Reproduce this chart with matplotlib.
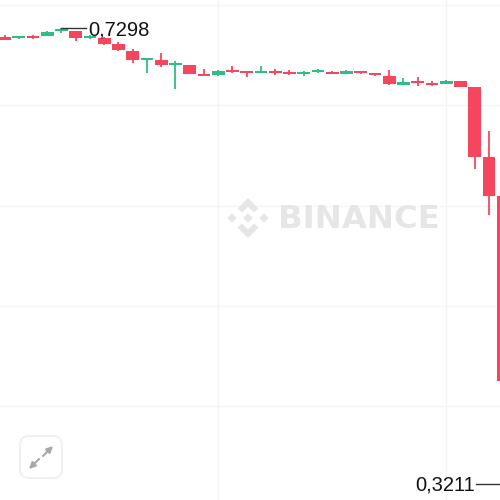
import matplotlib
matplotlib.use("Agg")
import matplotlib.pyplot as plt
from matplotlib.patches import Polygon, FancyBboxPatch

# Candle series: price values
opens = [.7208, .7211, .7226, .7226, .7271, .7271, .7211, .7208, .7155, .7095, .7014, .7011,
         .6967, .6967, .6883, .6877, .6913, .6907, .6892, .6907, .6901, .6889, .6907, .6901,
         .6889, .6910, .6886, .6868, .6787, .6821, .6803, .6799, .6821, .6769, .6142, .5793]
closes = [.7195, .7220, .7211, .7262, .7287, .7206, .7226, .7157, .7101, .7011, .7027, .6964,
          .6987, .6883, .6865, .6916, .6901, .6892, .6907, .6895, .6889, .6898, .6916, .6889,
          .6910, .6897, .6877, .6794, .6817, .6803, .6787, .6821, .6772, .6145, .5793, .4135]
highs = [.7231, .7226, .7238, .7271, .7298, .7271, .7235, .7217, .7177, .7114, .7027, .7074,
         .7002, .6967, .6931, .6922, .6958, .6907, .6958, .6931, .6922, .6913, .6931, .6910,
         .6925, .6917, .6886, .6919, .6850, .6859, .6819, .6832, .6821, .6769, .6375, .5793]
lows = [.7195, .7200, .7204, .7226, .7253, .7182, .7200, .7146, .7088, .6985, .6899, .6953,
        .6754, .6883, .6864, .6868, .6899, .6859, .6895, .6877, .6873, .6868, .6895, .6886,
        .6886, .6890, .6868, .6787, .6787, .6778, .6774, .6796, .6772, .6035, .5623, .3211]
max_label = "0,7298"
min_label = "0,3211"
grid_prices = [.7504, .6608, .5703, .4807, .3911]
grid_indices = [15, 31]
watermark = "BINANCE"

GREEN, RED = "#2ebd85", "#f6465d"
SPACING, X0 = 14.25, 4.5

fig = plt.figure(figsize=(5, 5), dpi=100, facecolor="white")
ax = fig.add_axes([0, 0, 1, 1])
ax.set_xlim(-X0 / SPACING, (500 - X0) / SPACING)
ax.set_ylim(0.7549 - 0.000896 * 500, 0.7549)
ax.axis("off")

for g in grid_prices:
    ax.axhline(g, color="#f5f5f5", lw=1, zorder=1)
for g in grid_indices:
    ax.axvline(g, color="#f5f5f5", lw=1, zorder=1)

for i, (o, c, h, l) in enumerate(zip(opens, closes, highs, lows)):
    col = GREEN if c >= o else RED
    ax.vlines(i, l, h, color=col, lw=1.3, zorder=3)
    body = max(abs(c - o), 0.0018)
    ax.bar(i, body, bottom=min(o, c), width=12.6 / SPACING, color=col, lw=0, zorder=3)

# Overlay in pixel coordinates for chart furniture
ov = fig.add_axes([0, 0, 1, 1], facecolor="none")
ov.set_xlim(0, 500)
ov.set_ylim(500, 0)
ov.axis("off")

# max / min annotations
ax.plot([4, 5.75], [highs[4], highs[4]], color="#333333", lw=1, zorder=4)
ax.annotate(max_label, (5.85, highs[4]), xytext=(0, -1.5), textcoords="offset points",
            fontsize=14.5, family="Liberation Sans", color="#111111",
            va="center", ha="left", zorder=5)
ax.plot([33.1, 35.1], [lows[35], lows[35]], color="#333333", lw=1, zorder=4)
ax.annotate(min_label, (33.0, lows[35]), xytext=(0, -0.7), textcoords="offset points",
            fontsize=14.5, family="Liberation Sans", color="#111111",
            va="center", ha="right", zorder=5)

# watermark
WM = "#e6e6e6"
ov.text(278, 219, watermark, fontsize=23.2, fontweight="bold", family="DejaVu Sans",
        color=WM, va="center", ha="left")
cx, cy = 248, 218
for dx in (-16, 0, 16):
    ov.add_patch(Polygon([(cx + dx - 4.7, cy), (cx + dx, cy - 4.7), (cx + dx + 4.7, cy), (cx + dx, cy + 4.7)],
                         color=WM, lw=0))
for s in (-1, 1):
    pts = [(0, 20), (10.5, 9.5), (6, 5.5), (0, 11.5), (-6, 5.5), (-10.5, 9.5)]
    ov.add_patch(Polygon([(cx + a, cy + s * b) for a, b in pts], color=WM, lw=0))

# expand button
ov.add_patch(FancyBboxPatch((27, 443), 28, 28, boxstyle="round,pad=7,rounding_size=9",
                            fc="white", ec="#eeeeee", lw=1.2))
arrow = dict(arrowstyle="-|>", color="#a8a8a8", lw=1.5, mutation_scale=9, shrinkA=0, shrinkB=0)
ov.annotate("", xy=(53, 446), xytext=(43, 456), arrowprops=arrow)
ov.annotate("", xy=(29, 469), xytext=(39, 459), arrowprops=arrow)

fig.savefig("out.png", dpi=100)
